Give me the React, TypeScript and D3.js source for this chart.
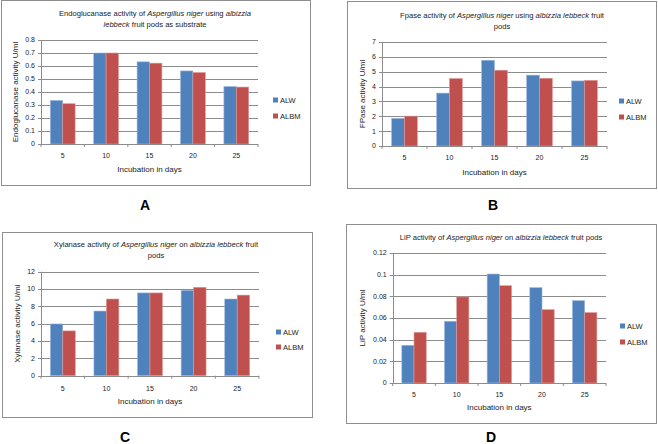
import React from "react";
import * as d3 from "d3";

const categories = ["5", "10", "15", "20", "25"];
const seriesNames = ["ALW", "ALBM"];
const colors = ["#4F81BD", "#C0504D"];

const endoALW = [0.335, 0.70, 0.632, 0.562, 0.442];
const endoALBM = [0.31, 0.70, 0.622, 0.55, 0.438];
const fpaseALW = [1.86, 3.56, 5.77, 4.77, 4.38];
const fpaseALBM = [2.01, 4.54, 5.1, 4.56, 4.42];
const xylALW = [5.97, 7.46, 9.55, 9.85, 8.85];
const xylALBM = [5.17, 8.85, 9.55, 10.2, 9.3];
const lipALW = [0.0348, 0.057, 0.1006, 0.088, 0.076];
const lipALBM = [0.0468, 0.0794, 0.0898, 0.0677, 0.065];

const endoTicks = [0, 0.1, 0.2, 0.3, 0.4, 0.5, 0.6, 0.7, 0.8];
const fpaseTicks = [0, 1, 2, 3, 4, 5, 6, 7];
const xylTicks = [0, 2, 4, 6, 8, 10, 12];
const lipTicks = [0, 0.02, 0.04, 0.06, 0.08, 0.1, 0.12];

type Seg = [string, boolean];
type Panel = {
  frame: [number, number, number, number];
  plot: { x0: number; x1: number; y0: number; y1: number };
  ticks: number[];
  fmt: (v: number) => string;
  data: number[][];
  title: Seg[][];
  titleX: number;
  titleY: number[];
  yLabel: string;
  yLabelX: number;
  xLabelY: number;
  tickLabelY: number;
  legendX: number;
  legendY: number[];
  letter: string;
  letterX: number;
  letterY: number;
};

const FONT = "'Liberation Sans', Arial, sans-serif";
const TXT = "#222";
const GRID = "#8c8c8c";

const panels: Panel[] = [
  {
    frame: [1, 0, 310, 185],
    plot: { x0: 41, x1: 258, y0: 144, y1: 40 },
    ticks: endoTicks,
    fmt: (v) => (v === 0 ? "0" : d3.format(".1f")(v)),
    data: [endoALW, endoALBM],
    title: [
      [["Endoglucanase activity of  ", false], ["Aspergillus niger", true], [" using ", false], ["albizzia", true]],
      [["lebbeck", true], [" fruit pods as substrate", false]],
    ],
    titleX: 155,
    titleY: [16, 27],
    yLabel: "Endoglucanase activity U/ml",
    yLabelX: 18,
    xLabelY: 172,
    tickLabelY: 158,
    legendX: 273,
    legendY: [100, 116],
    letter: "A",
    letterX: 145,
    letterY: 210,
  },
  {
    frame: [347, 1, 656, 188],
    plot: { x0: 382, x1: 607, y0: 146, y1: 42 },
    ticks: fpaseTicks,
    fmt: (v) => String(v),
    data: [fpaseALW, fpaseALBM],
    title: [
      [["Fpase activity of ", false], ["Aspergillus niger", true], [" using ", false], ["albizzia lebbeck", true], [" fruit", false]],
      [["pods", false]],
    ],
    titleX: 502,
    titleY: [18, 29],
    yLabel: "FPase activity U/ml",
    yLabelX: 365,
    xLabelY: 175,
    tickLabelY: 160,
    legendX: 619,
    legendY: [101, 117],
    letter: "B",
    letterX: 493,
    letterY: 210,
  },
  {
    frame: [2, 232, 312, 417],
    plot: { x0: 41, x1: 259, y0: 375.7, y1: 271.7 },
    ticks: xylTicks,
    fmt: (v) => String(v),
    data: [xylALW, xylALBM],
    title: [
      [["Xylanase activity of ", false], ["Aspergillus niger", true], [" on ", false], ["albizzia lebbeck", true], [" fruit", false]],
      [["pods", false]],
    ],
    titleX: 156,
    titleY: [247, 258],
    yLabel: "Xylanase activity U/ml",
    yLabelX: 20,
    xLabelY: 404,
    tickLabelY: 391,
    legendX: 276,
    legendY: [332, 347],
    letter: "C",
    letterX: 125,
    letterY: 441.5,
  },
  {
    frame: [346, 224, 656, 423],
    plot: { x0: 392.7, x1: 606, y0: 383, y1: 253 },
    ticks: lipTicks,
    fmt: (v) => (v === 0 ? "0" : String(+v.toFixed(2))),
    data: [lipALW, lipALBM],
    title: [
      [["LiP activity of ", false], ["Aspergillus niger", true], [" on ", false], ["albizzia lebbeck", true], [" fruit pods", false]],
    ],
    titleX: 501,
    titleY: [240],
    yLabel: "LiP activity U/ml",
    yLabelX: 365,
    xLabelY: 410,
    tickLabelY: 397,
    legendX: 620,
    legendY: [326, 342],
    letter: "D",
    letterX: 491,
    letterY: 441.5,
  },
];

function BarPanel({ p }: { p: Panel }) {
  const { plot } = p;
  const x = d3.scaleBand<string>().domain(categories).range([plot.x0, plot.x1]).paddingInner(0).paddingOuter(0);
  const xs = d3.scaleBand<string>().domain(seriesNames).range([0, x.bandwidth()]).paddingInner(0).paddingOuter(0.75);
  const yMax = p.ticks[p.ticks.length - 1];
  const y = d3.scaleLinear().domain([0, yMax]).range([plot.y0, plot.y1]);
  const [fx0, fy0, fx1, fy1] = p.frame;
  return (
    <g>
      <rect x={fx0 + 0.5} y={fy0 + 0.5} width={fx1 - fx0} height={fy1 - fy0} fill="#fff" stroke="#8e8e8e" strokeWidth={1} />
      {p.ticks.map((t) => (
        <g key={"t" + t}>
          <line x1={plot.x0 - 3} x2={plot.x1} y1={Math.round(y(t)) + 0.5} y2={Math.round(y(t)) + 0.5} stroke={GRID} strokeWidth={1} />
          <text x={plot.x0 - 6} y={y(t)} dy="0.35em" textAnchor="end" fontSize={7} fill={TXT} fontFamily={FONT}>
            {p.fmt(t)}
          </text>
        </g>
      ))}
      {p.data.map((vals, si) =>
        vals.map((v, ci) => {
          const bx = (x(categories[ci]) as number) + (xs(seriesNames[si]) as number);
          return (
            <rect
              key={si + "-" + ci}
              x={bx}
              y={y(v)}
              width={xs.bandwidth()}
              height={y(0) - y(v)}
              fill={colors[si]}
              stroke={si === 0 ? "#9db7dc" : "#dc9896"}
              strokeWidth={0.6}
            />
          );
        })
      )}
      <line x1={Math.round(plot.x0) + 0.5} x2={Math.round(plot.x0) + 0.5} y1={plot.y1} y2={plot.y0} stroke={GRID} />
      <line x1={plot.x0} x2={plot.x1} y1={Math.round(plot.y0) + 0.5} y2={Math.round(plot.y0) + 0.5} stroke={GRID} />
      {categories.map((c, i) => (
        <line key={"ct" + i} x1={(x(c) as number)} x2={(x(c) as number)} y1={plot.y0} y2={plot.y0 + 3} stroke={GRID} />
      ))}
      <line x1={plot.x1} x2={plot.x1} y1={plot.y0} y2={plot.y0 + 3} stroke={GRID} />
      {categories.map((c) => (
        <text key={"cl" + c} x={(x(c) as number) + x.bandwidth() / 2} y={p.tickLabelY} textAnchor="middle" fontSize={7} fill={TXT} fontFamily={FONT}>
          {c}
        </text>
      ))}
      <text x={(plot.x0 + plot.x1) / 2} y={p.xLabelY} textAnchor="middle" fontSize={8} fill={TXT} fontFamily={FONT}>
        Incubation in days
      </text>
      <text
        transform={`translate(${p.yLabelX},${(plot.y0 + plot.y1) / 2}) rotate(-90)`}
        textAnchor="middle"
        fontSize={8}
        fill={TXT}
        fontFamily={FONT}
      >
        {p.yLabel}
      </text>
      {p.title.map((line, li) => (
        <text key={"ti" + li} x={p.titleX} y={p.titleY[li]} textAnchor="middle" fontSize={7.6} fill={TXT} fontFamily={FONT}>
          {line.map((s, k) => (
            <tspan key={k} fontStyle={s[1] ? "italic" : "normal"}>
              {s[0]}
            </tspan>
          ))}
        </text>
      ))}
      {seriesNames.map((s, i) => (
        <g key={"lg" + s}>
          <rect x={p.legendX} y={p.legendY[i] - 2.5} width={5} height={5} fill={colors[i]} />
          <text x={p.legendX + 7} y={p.legendY[i]} dy="0.35em" fontSize={7.5} fill={TXT} fontFamily={FONT}>
            {s}
          </text>
        </g>
      ))}
      <text x={p.letterX} y={p.letterY} textAnchor="middle" fontSize={14} fontWeight="bold" fill="#000" fontFamily={FONT}>
        {p.letter}
      </text>
    </g>
  );
}

export default function App() {
  return (
    <svg
      width={658}
      height={444}
      viewBox="0 0 658 444"
      style={{ position: "absolute", left: 0, top: 0, background: "#fff" }}
    >
      <rect width={658} height={444} fill="#fff" />
      {panels.map((p) => (
        <BarPanel key={p.letter} p={p} />
      ))}
    </svg>
  );
}
